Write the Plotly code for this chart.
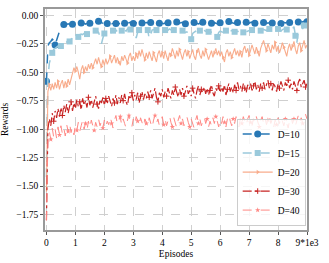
import plotly.graph_objects as go

episodes = [i * 50 for i in range(181)]

d10 = [-0.58, -0.27, -0.24, -0.23, -0.21, -0.22, -0.26, -0.22, -0.17, -0.12,
       -0.10, -0.09, -0.08, -0.085, -0.08, -0.075, -0.08, -0.07, -0.078, -0.082,
       -0.075, -0.07, -0.08, -0.072, -0.068, -0.074, -0.07, -0.078, -0.069, -0.065,
       -0.071, -0.066, -0.07, -0.062, -0.058, -0.06, -0.052, -0.06, -0.065, -0.07,
       -0.074, -0.068, -0.072, -0.078, -0.07, -0.075, -0.071, -0.066, -0.073, -0.069,
       -0.072, -0.075, -0.068, -0.064, -0.07, -0.076, -0.071, -0.067, -0.062, -0.068,
       -0.073, -0.07, -0.066, -0.071, -0.064, -0.061, -0.067, -0.072, -0.069, -0.063,
       -0.066, -0.07, -0.064, -0.068, -0.073, -0.069, -0.062, -0.065, -0.071, -0.067,
       -0.07, -0.074, -0.068, -0.063, -0.066, -0.07, -0.075, -0.072, -0.067, -0.064,
       -0.06, -0.066, -0.07, -0.065, -0.061, -0.068, -0.074, -0.07, -0.064, -0.069,
       -0.072, -0.068, -0.063, -0.067, -0.071, -0.076, -0.07, -0.066, -0.062, -0.065,
       -0.069, -0.064, -0.06, -0.066, -0.071, -0.067, -0.063, -0.07, -0.074, -0.069,
       -0.065, -0.061, -0.067, -0.07, -0.064, -0.06, -0.055, -0.062, -0.066, -0.07,
       -0.073, -0.068, -0.063, -0.067, -0.072, -0.078, -0.07, -0.065, -0.061, -0.066,
       -0.069, -0.064, -0.06, -0.065, -0.07, -0.067, -0.062, -0.058, -0.064, -0.068,
       -0.063, -0.06, -0.066, -0.07, -0.065, -0.061, -0.067, -0.072, -0.077, -0.084,
       -0.088, -0.08, -0.072, -0.066, -0.062, -0.068, -0.064, -0.059, -0.063, -0.067,
       -0.061, -0.057, -0.063, -0.068, -0.06, -0.056, -0.062, -0.058, -0.054, -0.06, -0.057]

d15 = [-1.42, -0.55, -0.42, -0.36, -0.33, -0.30, -0.29, -0.28, -0.27, -0.26,
       -0.27, -0.255, -0.25, -0.24, -0.235, -0.22, -0.23, -0.21, -0.20, -0.21,
       -0.19, -0.18, -0.19, -0.17, -0.165, -0.17, -0.16, -0.155, -0.165, -0.15,
       -0.155, -0.15, -0.14, -0.145, -0.135, -0.14, -0.15, -0.19, -0.25, -0.20,
       -0.16, -0.15, -0.155, -0.145, -0.14, -0.15, -0.135, -0.14, -0.13, -0.145,
       -0.14, -0.13, -0.135, -0.125, -0.13, -0.14, -0.12, -0.13, -0.125, -0.135,
       -0.13, -0.15, -0.20, -0.15, -0.13, -0.125, -0.12, -0.13, -0.115, -0.12,
       -0.13, -0.21, -0.16, -0.13, -0.125, -0.135, -0.13, -0.12, -0.125, -0.13,
       -0.135, -0.125, -0.13, -0.14, -0.13, -0.12, -0.128, -0.135, -0.13, -0.14,
       -0.135, -0.13, -0.14, -0.145, -0.135, -0.14, -0.15, -0.145, -0.16, -0.19,
       -0.21, -0.16, -0.145, -0.14, -0.15, -0.14, -0.135, -0.145, -0.14, -0.135,
       -0.14, -0.15, -0.145, -0.14, -0.15, -0.155, -0.15, -0.16, -0.19, -0.15,
       -0.14, -0.145, -0.15, -0.14, -0.135, -0.145, -0.15, -0.14, -0.135, -0.14,
       -0.145, -0.15, -0.14, -0.145, -0.135, -0.14, -0.15, -0.155, -0.145, -0.14,
       -0.135, -0.14, -0.13, -0.135, -0.145, -0.14, -0.13, -0.125, -0.135, -0.13,
       -0.125, -0.13, -0.135, -0.125, -0.12, -0.13, -0.125, -0.12, -0.13, -0.125,
       -0.12, -0.13, -0.14, -0.125, -0.12, -0.115, -0.125, -0.13, -0.12, -0.115,
       -0.12, -0.10, -0.18, -0.24, -0.14, -0.10, -0.08, -0.12, -0.09, -0.11, -0.10]

d20 = [-1.55, -0.67, -0.61, -0.66, -0.60, -0.65, -0.59, -0.64, -0.58, -0.65,
       -0.60, -0.57, -0.64, -0.58, -0.62, -0.56, -0.61, -0.55, -0.50, -0.46,
       -0.49, -0.45, -0.50, -0.56, -0.48, -0.44, -0.50, -0.45, -0.49, -0.43,
       -0.47, -0.42, -0.46, -0.41, -0.38, -0.43, -0.37, -0.42, -0.45, -0.39,
       -0.44, -0.38, -0.43, -0.40, -0.36, -0.42, -0.39, -0.35, -0.42, -0.37,
       -0.41, -0.44, -0.36, -0.40, -0.35, -0.39, -0.42, -0.36, -0.33, -0.40,
       -0.36, -0.40, -0.34, -0.38, -0.31, -0.36, -0.30, -0.35, -0.39, -0.33,
       -0.38, -0.32, -0.36, -0.40, -0.33, -0.37, -0.41, -0.34, -0.31, -0.37,
       -0.33, -0.38, -0.31, -0.36, -0.40, -0.33, -0.35, -0.29, -0.34, -0.38,
       -0.31, -0.36, -0.30, -0.34, -0.39, -0.33, -0.30, -0.36, -0.32, -0.38,
       -0.33, -0.30, -0.36, -0.39, -0.32, -0.29, -0.35, -0.38, -0.31, -0.36,
       -0.30, -0.34, -0.39, -0.35, -0.31, -0.37, -0.33, -0.29, -0.35, -0.31,
       -0.36, -0.32, -0.37, -0.41, -0.33, -0.30, -0.36, -0.32, -0.37, -0.33,
       -0.29, -0.35, -0.31, -0.36, -0.32, -0.37, -0.30, -0.27, -0.33, -0.29,
       -0.35, -0.31, -0.26, -0.30, -0.34, -0.28, -0.32, -0.36, -0.29, -0.25,
       -0.22, -0.27, -0.31, -0.25, -0.29, -0.33, -0.26, -0.30, -0.24, -0.32,
       -0.27, -0.33, -0.29, -0.24, -0.28, -0.32, -0.36, -0.29, -0.25, -0.31,
       -0.27, -0.23, -0.30, -0.34, -0.27, -0.24, -0.31, -0.26, -0.22, -0.29, -0.26]

d30 = [-1.80, -1.00, -0.91, -0.97, -0.86, -0.93, -0.84, -0.90, -0.82, -0.89,
       -0.81, -0.88, -0.79, -0.85, -0.78, -0.86, -0.80, -0.76, -0.84, -0.77,
       -0.82, -0.74, -0.80, -0.76, -0.83, -0.73, -0.79, -0.75, -0.81, -0.72,
       -0.79, -0.74, -0.81, -0.75, -0.71, -0.78, -0.82, -0.74, -0.77, -0.72,
       -0.79, -0.73, -0.78, -0.71, -0.76, -0.80, -0.73, -0.77, -0.70, -0.78,
       -0.72, -0.77, -0.70, -0.75, -0.69, -0.76, -0.79, -0.71, -0.74, -0.68,
       -0.75, -0.70, -0.74, -0.68, -0.77, -0.71, -0.67, -0.74, -0.69, -0.73,
       -0.67, -0.72, -0.66, -0.73, -0.69, -0.64, -0.72, -0.76, -0.68, -0.71,
       -0.65, -0.72, -0.67, -0.71, -0.64, -0.69, -0.73, -0.66, -0.70, -0.63,
       -0.68, -0.72, -0.65, -0.70, -0.64, -0.71, -0.67, -0.62, -0.69, -0.66,
       -0.71, -0.64, -0.69, -0.73, -0.66, -0.62, -0.70, -0.65, -0.68, -0.63,
       -0.69, -0.64, -0.70, -0.66, -0.61, -0.68, -0.71, -0.64, -0.67, -0.62,
       -0.68, -0.63, -0.67, -0.61, -0.70, -0.65, -0.60, -0.67, -0.63, -0.68,
       -0.61, -0.66, -0.59, -0.65, -0.62, -0.67, -0.60, -0.64, -0.68, -0.61,
       -0.65, -0.60, -0.66, -0.62, -0.58, -0.65, -0.61, -0.67, -0.60, -0.64,
       -0.59, -0.65, -0.61, -0.57, -0.64, -0.60, -0.66, -0.59, -0.63, -0.67,
       -0.60, -0.64, -0.58, -0.63, -0.66, -0.59, -0.62, -0.57, -0.64, -0.60,
       -0.65, -0.58, -0.62, -0.66, -0.59, -0.56, -0.63, -0.60, -0.57, -0.63, -0.60]

d40 = [-1.80, -1.10, -1.02, -1.09, -0.99, -1.07, -1.00, -1.08, -0.98, -1.05,
       -0.97, -1.04, -0.99, -1.06, -0.96, -1.02, -0.95, -1.03, -0.98, -1.05,
       -0.96, -1.01, -0.94, -1.02, -0.97, -0.92, -1.00, -0.95, -1.01, -0.93,
       -0.99, -0.92, -0.97, -1.01, -0.94, -0.98, -0.91, -0.97, -0.93, -0.99,
       -0.92, -0.98, -0.93, -0.96, -0.89, -0.95, -0.99, -0.92, -0.88, -0.96,
       -0.93, -0.89, -0.97, -0.91, -0.95, -0.99, -0.92, -0.88, -0.95, -0.98,
       -0.91, -0.96, -0.89, -0.93, -0.97, -0.90, -0.94, -0.98, -0.91, -0.95,
       -0.98, -0.90, -0.95, -0.99, -0.92, -0.88, -0.95, -0.91, -0.97, -0.93,
       -0.89, -0.96, -0.91, -0.97, -0.93, -0.88, -0.94, -0.98, -0.90, -0.95,
       -0.99, -0.92, -0.88, -0.95, -0.91, -0.97, -0.93, -0.89, -0.94, -0.98,
       -0.91, -0.96, -0.99, -0.92, -0.88, -0.95, -0.91, -0.97, -0.93, -0.89,
       -0.95, -0.91, -0.98, -0.93, -0.97, -0.90, -0.95, -0.89, -0.93, -0.98,
       -0.91, -0.95, -0.89, -0.94, -0.98, -0.91, -0.87, -0.93, -0.97, -0.91,
       -0.95, -0.89, -0.93, -0.98, -0.90, -0.95, -0.89, -0.93, -0.97, -0.91,
       -0.88, -0.94, -0.97, -0.91, -0.95, -0.89, -0.93, -0.98, -0.92, -0.89,
       -0.95, -0.90, -0.96, -0.92, -0.88, -0.95, -0.91, -0.98, -0.92, -0.96,
       -0.90, -0.95, -0.89, -0.93, -0.97, -0.91, -0.95, -0.99, -0.92, -0.89,
       -0.95, -0.91, -0.97, -0.92, -0.88, -0.94, -0.90, -0.95, -0.91, -0.87, -0.91]

names = ["D=10", "D=15", "D=20", "D=30", "D=40"]
colors = ["#2878b5", "#9ac9db", "#f8ac8c", "#c82423", "#ff8884"]
symbols = ["circle", "square", "triangle-right", "cross-thin", "star"]
dashes = ["dash", "dash", "solid", "dashdot", "dash"]
widths = [1.5, 1.5, 1.1, 1.2, 1.0]
msizes = [7, 6, 4, 4, 4]

x_tickvals = [0, 1000, 2000, 3000, 4000, 5000, 6000, 7000, 8000, 9000]
x_ticktext = ["0", "1", "2", "3", "4", "5", "6", "7", "8", "9*1e3"]
y_tickvals = [0.0, -0.25, -0.5, -0.75, -1.0, -1.25, -1.5, -1.75]
y_ticktext = ["0.00", "\u22120.25", "\u22120.50", "\u22120.75", "\u22121.00",
              "\u22121.25", "\u22121.50", "\u22121.75"]

series = [d10, d15, d20, d30, d40]
FONT = "Liberation Serif"

fig = go.Figure()
for s, nm, c, sym, da, w, ms in zip(series, names, colors, symbols, dashes, widths, msizes):
    mline = dict(width=1, color=c) if sym == "cross-thin" else dict(width=0)
    fig.add_trace(go.Scatter(
        x=episodes, y=s, mode="lines+markers", name=nm,
        line=dict(color=c, width=w, dash=da),
        marker=dict(symbol=sym, size=ms, color=c, line=mline, maxdisplayed=31),
    ))

fig.update_layout(
    width=329, height=263,
    margin=dict(l=45, r=22, t=9, b=33, autoexpand=False),
    paper_bgcolor="white", plot_bgcolor="white",
    font=dict(family=FONT, size=9, color="black"),
    showlegend=True,
    legend=dict(x=0.995, y=0.02, xanchor="right", yanchor="bottom",
                bgcolor="rgba(255,255,255,0.8)", bordercolor="#cccccc", borderwidth=1,
                font=dict(family=FONT, size=9.5), itemwidth=30, tracegroupgap=0),
)
fig.update_xaxes(
    range=[-50, 9000], tickvals=x_tickvals, ticktext=x_ticktext, automargin=False,
    showgrid=True, gridcolor="#cfcfcf", griddash="dash", gridwidth=0.8,
    showline=True, linecolor="#999999", linewidth=1.5, mirror=True,
    ticks="outside", ticklen=3, tickcolor="#555555",
    tickfont=dict(family=FONT, size=9.5),
    zeroline=False,
    title=dict(text="Episodes", font=dict(family=FONT, size=9.5), standoff=3),
)
fig.update_yaxes(
    range=[-1.885, 0.055], tickvals=y_tickvals, ticktext=y_ticktext, automargin=False,
    showgrid=True, gridcolor="#cfcfcf", griddash="dash", gridwidth=0.8,
    showline=True, linecolor="#999999", linewidth=1.5, mirror=True,
    ticks="outside", ticklen=3, tickcolor="#555555",
    tickfont=dict(family=FONT, size=9.5),
    zeroline=False,
    title=dict(text="Rewards", font=dict(family=FONT, size=9.5), standoff=6),
)

fig.write_html("out.html", config={"displayModeBar": False},
               post_script="document.body.style.margin='0';")
